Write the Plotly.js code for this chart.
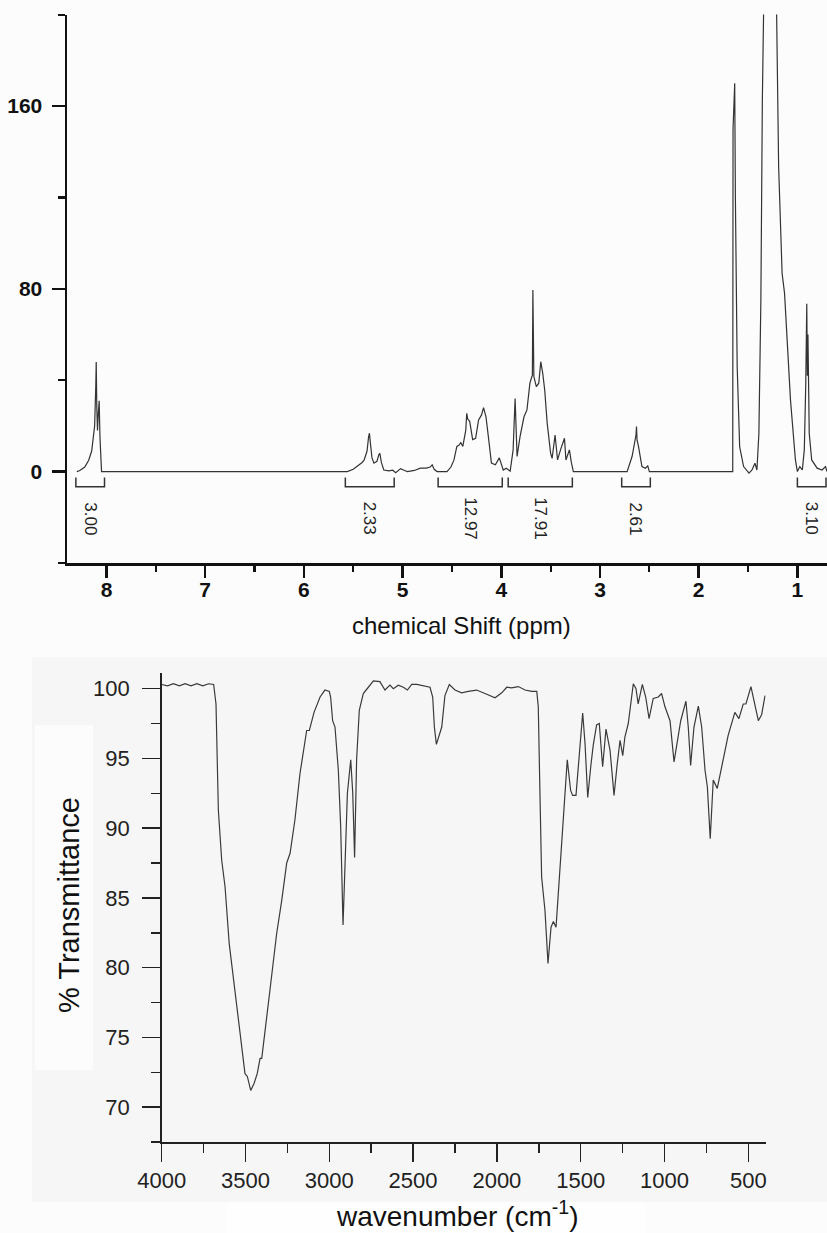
<!DOCTYPE html>
<html><head><meta charset="utf-8">
<script src="https://cdn.plot.ly/plotly-3.0.1.min.js"></script>
<style>html,body{margin:0;padding:0;background:#fcfcfc}</style>
</head><body><div id="chart" style="width:827px;height:1233px"></div>
<script>
// ---------- 1H NMR spectrum ----------
const nmrShift = [8.30, 8.27, 8.22, 8.18, 8.15, 8.13, 8.12, 8.108, 8.104, 8.098, 8.091, 8.082, 8.074, 8.066, 8.058, 8.05,
  7.0, 6.0, 5.56, 5.50, 5.45, 5.41, 5.39, 5.36, 5.345, 5.336, 5.325, 5.31, 5.29, 5.26, 5.24, 5.23, 5.215, 5.19, 5.14, 5.10, 5.07, 5.02, 4.98, 4.95, 4.88, 4.82, 4.76, 4.72, 4.70, 4.68, 4.65,
  4.55, 4.51, 4.48, 4.45, 4.43, 4.41, 4.39, 4.36, 4.35, 4.34, 4.32, 4.29, 4.26, 4.23, 4.20, 4.18, 4.155, 4.13, 4.10, 4.06, 4.02, 3.98, 3.95, 3.91,
  3.88, 3.86, 3.84, 3.81, 3.77, 3.74, 3.71, 3.69, 3.685, 3.68, 3.675, 3.67, 3.645, 3.62, 3.60, 3.58, 3.56, 3.535, 3.50, 3.485, 3.455, 3.43, 3.40, 3.39, 3.36, 3.345, 3.31, 3.29, 3.27,
  3.0, 2.725, 2.675, 2.65, 2.635, 2.63, 2.625, 2.61, 2.575, 2.54, 2.516, 2.50,
  2.0, 1.655, 1.652, 1.645, 1.635, 1.628, 1.61, 1.585, 1.545, 1.49, 1.46, 1.43, 1.41, 1.39, 1.37, 1.355, 1.30, 1.25, 1.215, 1.19, 1.155, 1.13, 1.07, 1.02, 1.0,
  0.975, 0.95, 0.93, 0.915, 0.905, 0.899, 0.893, 0.88, 0.855, 0.80, 0.75, 0.715, 0.70];
const nmrIntensity = [0, 0.5, 2, 5, 9, 15, 20, 38, 48, 28, 18, 26, 31, 15, 3, 0,
  0, 0, 0, 1, 2.5, 4, 5, 9, 15, 16.8, 12, 6, 3.7, 4.5, 7.5, 8, 4, 0.7, 0.3, 0.6, -0.5, 1.3, 0.5, 0, 0.5, 1.5, 1.5, 2, 3, 1, 0,
  0, 2, 5, 11, 11.5, 12.7, 11, 18, 25.5, 23, 22, 14, 14.6, 22.6, 24.8, 28, 24, 15, 3.7, 3, 6, 0.7, 1.5, 0.2,
  9.5, 32, 6.6, 15.3, 24, 27, 38.7, 41.6, 42, 79.5, 42, 41.6, 37.2, 38.7, 48.1, 43, 35.7, 21.2, 8, 5.8, 16, 5.1, 9.5, 11, 14.6, 5.1, 9.5, 4, 0,
  0, 0, 6.6, 12.4, 16, 19.7, 14, 11, 2.2, 1.5, 2.5, 0,
  0, 0, 150, 158, 170, 119, 46, 10.9, 2.2, -0.7, 0.7, 3.7, 0.7, 16.8, 75, 162.6, 330, 330, 215, 133.4, 86.8, 78, 31.4, 5.1, 0,
  2.2, 0.7, 9.5, 38.7, 73.5, 42, 60, 16.8, 5.1, 1.5, 0.7, 2.2, 0];

// integration brackets
const integralStart = [8.31, 5.58, 4.64, 3.93, 2.78, 1.00];
const integralEnd   = [8.02, 5.085, 3.99, 3.28, 2.49, 0.71];
const integralLabels = ["3.00", "2.33", "12.97", "17.91", "2.61", "3.10"];

// ---------- FTIR spectrum ----------
const irWavenumber = [4000, 3965, 3930, 3895, 3860, 3825, 3790, 3755, 3720, 3690, 3676, 3662, 3642, 3622, 3597, 3573, 3557, 3533, 3503, 3489, 3469, 3449, 3430, 3413, 3403,
  3354, 3314, 3284, 3254, 3234, 3205, 3175, 3135, 3119, 3091, 3055, 3026, 3000, 2992, 2980, 2966, 2946, 2932, 2918, 2906, 2892, 2872, 2860, 2849, 2837, 2821, 2797,
  2767, 2737, 2698, 2668, 2638, 2618, 2588, 2558, 2534, 2508, 2478, 2439, 2399, 2383, 2373, 2361, 2344, 2329, 2310, 2284, 2250, 2210, 2171, 2121, 2071, 2011, 1971,
  1941, 1912, 1872, 1832, 1792, 1762, 1753, 1743, 1733, 1713, 1695, 1677, 1663, 1647, 1624, 1604, 1580, 1560, 1548, 1528, 1504, 1488, 1474, 1458, 1440, 1425, 1405,
  1389, 1369, 1349, 1325, 1301, 1282, 1265, 1249, 1236, 1216, 1202, 1186, 1170, 1157, 1132, 1112, 1092, 1067, 1037, 1017, 997, 967, 943, 924, 903, 872, 858, 844,
  824, 798, 778, 758, 744, 727, 709, 685, 653, 620, 580, 556, 530, 514, 484, 460, 440, 420, 400];
const irTransmittance = [100.3, 100.2, 100.35, 100.2, 100.35, 100.2, 100.35, 100.2, 100.35, 100.3, 98.9, 91.3, 87.7, 85.8, 81.7, 79.35, 77.4, 75.05, 72.4, 72.2, 71.2, 71.7, 72.4, 73.5, 73.5,
  78.4, 82.45, 84.8, 87.5, 88.2, 90.6, 93.9, 97.0, 97.0, 98.3, 99.4, 99.9, 99.8, 99.4, 97.7, 97.25, 94.15, 90.1, 83.05, 87.7, 92.5, 94.9, 92.5, 87.9, 94.9, 98.45, 99.65,
  100.1, 100.55, 100.5, 99.9, 100.25, 100.0, 100.25, 100.1, 99.9, 100.3, 100.3, 100.2, 100.1, 99.4, 97.25, 96.0, 96.65, 97.25, 99.5, 100.3, 99.9, 99.7, 99.8, 99.9, 99.65, 99.35, 99.7,
  100.1, 100.05, 100.15, 99.9, 99.8, 99.8, 98.7, 92.5, 86.5, 84.1, 80.3, 82.9, 83.3, 82.9, 87.2, 90.1, 94.9, 92.7, 92.35, 92.35, 96.05, 98.25, 96.05, 92.2, 94.4, 95.95, 97.4,
  97.5, 94.4, 97.1, 95.6, 92.35, 94.6, 96.3, 95.2, 96.55, 97.5, 98.9, 100.35, 100.0, 98.9, 100.3, 99.4, 97.85, 99.3, 99.4, 99.65, 98.7, 97.7, 94.75, 96.3, 97.7, 99.1, 97.25, 94.5,
  97.25, 98.75, 97.25, 94.15, 92.95, 89.25, 93.45, 92.85, 94.6, 96.65, 98.3, 97.85, 98.9, 98.9, 100.15, 98.9, 97.7, 98.15, 99.5];

const W = 827, H = 1233;
const px = v => v / W, py = v => 1 - v / H;
const FONT = "Liberation Sans, Arial, Helvetica, sans-serif";

const traces = [
  {x: nmrShift, y: nmrIntensity, xaxis: 'x', yaxis: 'y', type: 'scatter', mode: 'lines',
   line: {color: '#333333', width: 1.2}, hoverinfo: 'skip'},
  {x: irWavenumber, y: irTransmittance, xaxis: 'x2', yaxis: 'y2', type: 'scatter', mode: 'lines',
   line: {color: '#3a3a3a', width: 1.2}, hoverinfo: 'skip'}
];

const rect = (x0, x1, y0, y1, c) => ({type: 'rect', xref: 'paper', yref: 'paper',
  x0: px(x0), x1: px(x1), y0: py(y1), y1: py(y0), fillcolor: c, line: {width: 0}, layer: 'below'});
const shapes = [
  rect(32, 827, 657, 1202, '#f6f6f6'),
  rect(35, 93, 725, 1070, '#fcfcfc'),
  rect(227, 645, 1202, 1233, '#fefefe')
];
const annotations = [];
integralStart.forEach((a, i) => {
  const b = integralEnd[i];
  shapes.push({type: 'path', xref: 'x', yref: 'y',
    path: `M ${a},-2.6 L ${a},-6.6 L ${b},-6.6 L ${b},-2.6`,
    line: {color: '#333333', width: 1.5}});
  annotations.push({xref: 'x', yref: 'y', x: (a + b) / 2, y: -20.5, text: integralLabels[i],
    xanchor: 'center', yanchor: 'middle',
    textangle: 90, showarrow: false, font: {family: FONT, size: 17, color: '#222'}});
});
annotations.push({xref: 'paper', yref: 'paper', x: px(461), y: py(625), text: 'chemical Shift (ppm)',
  xanchor: 'center', yanchor: 'middle',
  showarrow: false, font: {family: FONT, size: 24, color: '#111'}});
annotations.push({xref: 'paper', yref: 'paper', x: px(69), y: py(905), text: '% Transmittance',
  xanchor: 'center', yanchor: 'middle',
  textangle: -90, showarrow: false, font: {family: FONT, size: 29, color: '#111'}});
annotations.push({xref: 'paper', yref: 'paper', x: px(457), y: py(1234), text: 'wavenumber (cm<sup>-1</sup>)',
  xanchor: 'center', yanchor: 'bottom',
  showarrow: false, font: {family: FONT, size: 28, color: '#111'}});

const layout = {
  width: W, height: H, margin: {l: 0, r: 0, t: 0, b: 0},
  paper_bgcolor: '#fcfcfc', plot_bgcolor: 'rgba(0,0,0,0)', showlegend: false,
  xaxis: {domain: [px(67), 1], range: [8.4, 0.7], anchor: 'y', tick0: 0, dtick: 1,
    ticks: 'outside', ticklen: 12, tickwidth: 2.5, tickcolor: '#111',
    showline: true, linewidth: 2.5, linecolor: '#111', showgrid: false, zeroline: false,
    minor: {dtick: 0.5, ticks: 'outside', ticklen: 6, tickwidth: 2.2, tickcolor: '#111', showgrid: false},
    tickfont: {family: FONT, size: 21, weight: 'bold', color: '#111'}, ticklabelstandoff: -6},
  yaxis: {domain: [py(563), py(14.6)], range: [-40, 200], anchor: 'x', tick0: 0, dtick: 80,
    ticks: 'outside', ticklen: 13, tickwidth: 2.5, tickcolor: '#111',
    showline: true, linewidth: 2.5, linecolor: '#111', showgrid: false, zeroline: false,
    minor: {dtick: 40, ticks: 'outside', ticklen: 7, tickwidth: 2.2, tickcolor: '#111', showgrid: false},
    tickfont: {family: FONT, size: 21, weight: 'bold', color: '#111'}, ticklabelstandoff: 5},
  xaxis2: {domain: [px(161.7), px(765.7)], range: [4000, 396], anchor: 'y2', tick0: 0, dtick: 500,
    ticks: 'outside', ticklen: 18, tickwidth: 1.5, tickcolor: '#222',
    showline: true, linewidth: 1.6, linecolor: '#222', showgrid: false, zeroline: false,
    minor: {dtick: 250, ticks: 'outside', ticklen: 9, tickwidth: 1.5, tickcolor: '#222', showgrid: false},
    tickfont: {family: FONT, size: 22, color: '#222'}, ticklabelstandoff: 0},
  yaxis2: {domain: [py(1142), py(673.3)], range: [67.5, 101.1], anchor: 'x2', tick0: 0, dtick: 5,
    ticks: 'outside', ticklen: 18, tickwidth: 1.5, tickcolor: '#222',
    showline: true, linewidth: 1.6, linecolor: '#222', showgrid: false, zeroline: false,
    minor: {dtick: 2.5, ticks: 'outside', ticklen: 9, tickwidth: 1.5, tickcolor: '#222', showgrid: false},
    tickfont: {family: FONT, size: 22, color: '#222'}, ticklabelstandoff: 8},
  shapes: shapes, annotations: annotations
};

Plotly.newPlot('chart', traces, layout, {staticPlot: true, displayModeBar: false});
</script>
</body></html>
